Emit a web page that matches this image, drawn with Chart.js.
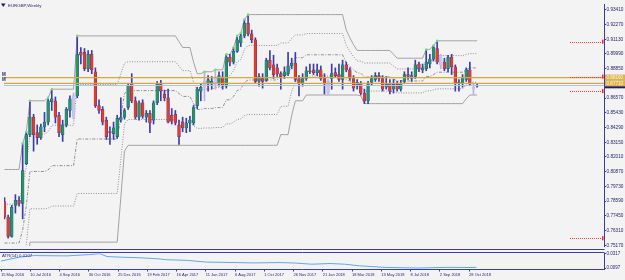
<!DOCTYPE html>
<html lang="en">
<head>
<meta charset="UTF-8">
<title>EURGBP,Weekly</title>
<script src="https://cdn.jsdelivr.net/npm/chart.js"></script>
<style>
    body {
        margin: 0;
        width: 625px;
        height: 280px;
        overflow: hidden;
        position: relative;
        background: #f3f3f3;
    }
    canvas { position: absolute; left: 0; }
    #mainChart { top: 0; }
    #atrChart { top: 250px; }
</style>
</head>
<body>
<canvas id="mainChart" width="625" height="250"></canvas>
<canvas id="atrChart" width="625" height="30"></canvas>
<script>
// weekly candles, week 0 = 15 May 2016
const openPrices = [
    0.7856, 0.7736, 0.7586, 0.7826, 0.7864, 0.7841, 0.8149, 0.8374, 0.8509, 0.8389,
    0.8351, 0.8434, 0.8471, 0.8629, 0.8636, 0.8524, 0.8374, 0.8449, 0.8561, 0.8509,
    0.8674, 0.9011, 0.9011, 0.8884, 0.8996, 0.8861, 0.8599, 0.8569, 0.8486, 0.8396,
    0.8381, 0.8359, 0.8486, 0.8509, 0.8584, 0.8771, 0.8636, 0.8509, 0.8621, 0.8509,
    0.8539, 0.8486, 0.8621, 0.8764, 0.8689, 0.8659, 0.8524, 0.8531, 0.8449, 0.8471,
    0.8426, 0.8464, 0.8464, 0.8599, 0.8711, 0.8741, 0.8764, 0.8764, 0.8771, 0.8764,
    0.8816, 0.8749, 0.8974, 0.8936, 0.9019, 0.9086, 0.9139, 0.9236, 0.9154, 0.9109,
    0.8786, 0.8816, 0.8794, 0.8951, 0.8914, 0.8891, 0.8846, 0.8831, 0.8846, 0.8906,
    0.8929, 0.8809, 0.8771, 0.8809, 0.8869, 0.8876, 0.8854, 0.8876, 0.8816, 0.8696,
    0.8809, 0.8854, 0.8839, 0.8801, 0.8914, 0.8876, 0.8809, 0.8749, 0.8771, 0.8696,
    0.8636, 0.8779, 0.8801, 0.8831, 0.8809, 0.8741, 0.8771, 0.8726, 0.8764, 0.8726,
    0.8786, 0.8839, 0.8809, 0.8824, 0.8921, 0.8876, 0.8884, 0.8921, 0.8959, 0.9041,
    0.8914, 0.8936, 0.8884, 0.8974, 0.8899, 0.8771, 0.8771, 0.8801, 0.8876, 0.8741,
    0.8749
];
const highPrices = [
    0.7886, 0.7751, 0.7826, 0.7909, 0.7894, 0.8306, 0.8396, 0.8636, 0.8531, 0.8449,
    0.8456, 0.8546, 0.8659, 0.8726, 0.8666, 0.8546, 0.8486, 0.8584, 0.8674, 0.8696,
    0.9139, 0.9049, 0.9041, 0.9026, 0.9026, 0.8891, 0.8644, 0.8591, 0.8509, 0.8434,
    0.8471, 0.8524, 0.8659, 0.8576, 0.8771, 0.8846, 0.8666, 0.8636, 0.8644, 0.8561,
    0.8561, 0.8636, 0.8786, 0.8794, 0.8719, 0.8726, 0.8576, 0.8561, 0.8486, 0.8509,
    0.8501, 0.8516, 0.8599, 0.8741, 0.8764, 0.8861, 0.8831, 0.8824, 0.8876, 0.8861,
    0.8861, 0.8996, 0.8996, 0.9049, 0.9139, 0.9161, 0.9266, 0.9304, 0.9184, 0.9124,
    0.8846, 0.8846, 0.8966, 0.9026, 0.8989, 0.8921, 0.8861, 0.8899, 0.9011, 0.8966,
    0.9011, 0.8831, 0.8846, 0.8899, 0.8921, 0.8921, 0.8921, 0.8906, 0.8846, 0.8801,
    0.8921, 0.8891, 0.8921, 0.8951, 0.8936, 0.8891, 0.8831, 0.8801, 0.8786, 0.8726,
    0.8786, 0.8831, 0.8854, 0.8854, 0.8831, 0.8824, 0.8801, 0.8801, 0.8786, 0.8794,
    0.8861, 0.8891, 0.8861, 0.8951, 0.8936, 0.8921, 0.9034, 0.8996, 0.9064, 0.9101,
    0.8996, 0.8966, 0.8989, 0.8996, 0.8914, 0.8801, 0.8839, 0.8891, 0.8936, 0.8771,
    0.8764
];
const lowPrices = [
    0.7721, 0.7571, 0.7579, 0.7766, 0.7819, 0.7721, 0.8141, 0.8359, 0.8246, 0.8299,
    0.8336, 0.8396, 0.8449, 0.8561, 0.8464, 0.8359, 0.8321, 0.8434, 0.8509, 0.8494,
    0.8659, 0.8921, 0.8869, 0.8861, 0.8846, 0.8584, 0.8539, 0.8449, 0.8336, 0.8299,
    0.8336, 0.8344, 0.8471, 0.8494, 0.8569, 0.8621, 0.8494, 0.8486, 0.8501, 0.8471,
    0.8389, 0.8456, 0.8606, 0.8636, 0.8636, 0.8464, 0.8456, 0.8449, 0.8299, 0.8396,
    0.8389, 0.8396, 0.8449, 0.8576, 0.8636, 0.8636, 0.8711, 0.8726, 0.8726, 0.8749,
    0.8726, 0.8734, 0.8906, 0.8921, 0.9011, 0.9056, 0.9124, 0.9139, 0.9086, 0.8771,
    0.8749, 0.8734, 0.8786, 0.8876, 0.8809, 0.8824, 0.8726, 0.8809, 0.8831, 0.8884,
    0.8786, 0.8674, 0.8749, 0.8794, 0.8846, 0.8839, 0.8831, 0.8794, 0.8689, 0.8689,
    0.8726, 0.8816, 0.8786, 0.8726, 0.8861, 0.8794, 0.8711, 0.8726, 0.8681, 0.8614,
    0.8614, 0.8756, 0.8786, 0.8786, 0.8711, 0.8726, 0.8689, 0.8696, 0.8711, 0.8711,
    0.8771, 0.8801, 0.8786, 0.8809, 0.8861, 0.8854, 0.8869, 0.8891, 0.8944, 0.8921,
    0.8884, 0.8869, 0.8861, 0.8839, 0.8711, 0.8711, 0.8741, 0.8786, 0.8756, 0.8681,
    0.8741
];
const closePrices = [
    0.7736, 0.7586, 0.7811, 0.7864, 0.7841, 0.8096, 0.8374, 0.8509, 0.8374, 0.8351,
    0.8434, 0.8471, 0.8636, 0.8651, 0.8509, 0.8389, 0.8449, 0.8569, 0.8651, 0.8674,
    0.8996, 0.8989, 0.8884, 0.8996, 0.8876, 0.8599, 0.8561, 0.8471, 0.8359, 0.8389,
    0.8426, 0.8501, 0.8509, 0.8561, 0.8756, 0.8636, 0.8509, 0.8621, 0.8516, 0.8539,
    0.8464, 0.8621, 0.8764, 0.8711, 0.8659, 0.8471, 0.8479, 0.8464, 0.8359, 0.8426,
    0.8464, 0.8486, 0.8584, 0.8726, 0.8741, 0.8786, 0.8801, 0.8786, 0.8816, 0.8831,
    0.8749, 0.8974, 0.8936, 0.9019, 0.9109, 0.9139, 0.9236, 0.9154, 0.9109, 0.8786,
    0.8824, 0.8786, 0.8951, 0.8891, 0.8839, 0.8846, 0.8824, 0.8861, 0.8906, 0.8929,
    0.8801, 0.8771, 0.8809, 0.8869, 0.8861, 0.8854, 0.8876, 0.8809, 0.8771, 0.8786,
    0.8846, 0.8831, 0.8801, 0.8914, 0.8876, 0.8809, 0.8734, 0.8779, 0.8696, 0.8636,
    0.8764, 0.8809, 0.8831, 0.8809, 0.8726, 0.8764, 0.8711, 0.8764, 0.8726, 0.8771,
    0.8839, 0.8824, 0.8831, 0.8914, 0.8884, 0.8891, 0.8936, 0.8959, 0.9049, 0.8936,
    0.8989, 0.8884, 0.8974, 0.8899, 0.8771, 0.8779, 0.8816, 0.8876, 0.8764, 0.8726,
    0.8756
];

// 26 week high / low channel, read per week
const channelHigh = [
    0.8104, 0.8104, 0.8104, 0.8104, 0.8104, 0.8306, 0.8396, 0.8636, 0.8636, 0.8636,
    0.8636, 0.8636, 0.8659, 0.8726, 0.8726, 0.8726, 0.8726, 0.8726, 0.8726, 0.8726,
    0.9139, 0.9139, 0.9139, 0.9139, 0.9139, 0.9139, 0.9139, 0.9139, 0.9139, 0.9139,
    0.9139, 0.9139, 0.9139, 0.9139, 0.9139, 0.9139, 0.9139, 0.9139, 0.9139, 0.9139,
    0.9139, 0.9139, 0.9139, 0.9139, 0.9139, 0.9139, 0.9139, 0.9139, 0.9094, 0.9049,
    0.9049, 0.9049, 0.8936, 0.8846, 0.8846, 0.8861, 0.8861, 0.8861, 0.8876, 0.8876,
    0.8876, 0.8996, 0.8996, 0.9049, 0.9139, 0.9161, 0.9266, 0.9304, 0.9304, 0.9304,
    0.9304, 0.9304, 0.9304, 0.9304, 0.9304, 0.9304, 0.9304, 0.9304, 0.9304, 0.9304,
    0.9304, 0.9304, 0.9304, 0.9304, 0.9304, 0.9304, 0.9304, 0.9304, 0.9304, 0.9304,
    0.9304, 0.9304, 0.9304, 0.9304, 0.9184, 0.9124, 0.9071, 0.9026, 0.9026, 0.9026,
    0.9026, 0.9026, 0.9026, 0.9026, 0.9026, 0.9026, 0.9026, 0.8996, 0.8966, 0.8966,
    0.8966, 0.8966, 0.8966, 0.8966, 0.8966, 0.8966, 0.9034, 0.9034, 0.9064, 0.9101,
    0.9101, 0.9101, 0.9101, 0.9101, 0.9101, 0.9101, 0.9101, 0.9101, 0.9101, 0.9101,
    0.9101
];
const channelLow = [
    0.6964, 0.6964, 0.6964, 0.6964, 0.6964, 0.6964, 0.7249, 0.7541, 0.7541, 0.7541,
    0.7541, 0.7541, 0.7541, 0.7541, 0.7541, 0.7541, 0.7541, 0.7541, 0.7541, 0.7541,
    0.7541, 0.7541, 0.7541, 0.7541, 0.7541, 0.7541, 0.7541, 0.7541, 0.7541, 0.7541,
    0.7541, 0.7541, 0.7886, 0.8246, 0.8291, 0.8291, 0.8291, 0.8291, 0.8291, 0.8291,
    0.8291, 0.8291, 0.8291, 0.8291, 0.8291, 0.8291, 0.8291, 0.8291, 0.8291, 0.8291,
    0.8291, 0.8291, 0.8291, 0.8291, 0.8291, 0.8291, 0.8291, 0.8291, 0.8291, 0.8291,
    0.8291, 0.8291, 0.8291, 0.8291, 0.8291, 0.8291, 0.8291, 0.8291, 0.8291, 0.8291,
    0.8291, 0.8291, 0.8291, 0.8291, 0.8291, 0.8291, 0.8374, 0.8374, 0.8374, 0.8524,
    0.8636, 0.8636, 0.8636, 0.8681, 0.8681, 0.8681, 0.8681, 0.8681, 0.8681, 0.8681,
    0.8681, 0.8681, 0.8681, 0.8681, 0.8681, 0.8681, 0.8681, 0.8681, 0.8674, 0.8614,
    0.8614, 0.8614, 0.8614, 0.8614, 0.8614, 0.8614, 0.8614, 0.8614, 0.8614, 0.8614,
    0.8614, 0.8614, 0.8614, 0.8614, 0.8614, 0.8614, 0.8614, 0.8614, 0.8614, 0.8614,
    0.8614, 0.8614, 0.8614, 0.8614, 0.8614, 0.8614, 0.8614, 0.8651, 0.8681, 0.8681,
    0.8681
];
const fibRatios = [0.236, 0.5, 0.764];

const lavenderWeeks = [19, 55, 58, 89, 120, 129];
const newHighWeeks = [5, 6, 7, 12, 13, 20, 55, 58, 61, 63, 64, 65, 66, 67, 116, 118, 119];

const levelLines = [0.8816, 0.8771];
const alertLevels = [0.9094, 0.8824, 0.8711, 0.7571];

const priceTicks = [0.93410, 0.92270, 0.91130, 0.89990, 0.88850, 0.87710, 0.86570, 0.85430, 0.84290,
    0.83150, 0.82010, 0.80870, 0.79730, 0.78590, 0.77450, 0.76310, 0.75170];

const dateWeeks = [0, 8, 16, 24, 32, 40, 48, 56, 64, 72, 80, 88, 96, 104, 112, 120, 128];
const dateLabels = ['15 May 2016', '10 Jul 2016', '4 Sep 2016', '30 Oct 2016', '25 Dec 2016', '19 Feb 2017',
    '16 Apr 2017', '11 Jun 2017', '6 Aug 2017', '1 Oct 2017', '26 Nov 2017', '21 Jan 2018', '18 Mar 2018',
    '13 May 2018', '8 Jul 2018', '2 Sep 2018', '28 Oct 2018'];

const atrWeeks = [0, 5, 9, 18, 24, 27, 29, 33, 38, 43, 45, 51, 56, 64, 69, 76, 80, 85, 90, 94, 98, 105, 114, 122, 128, 130];
const atrValues = [0.0204, 0.0263, 0.0288, 0.0283, 0.0302, 0.0317, 0.0273, 0.0263, 0.0254, 0.0239, 0.0225, 0.0214, 0.0189,
    0.0181, 0.0175, 0.0181, 0.0175, 0.0156, 0.0166, 0.0156, 0.0131, 0.0107, 0.0097, 0.0107, 0.0105, 0.0107];
const atrTicks = [0.0097, 0.0317];

const NAVY = '#3c3cae';
const TEXT = '#26266e';
const FONT = 'Liberation Sans';
const X_MIN = -0.137, X_MAX = 164.9;

let weeks = openPrices.map((_, i) => i);
let isLavender = i => lavenderWeeks.includes(i);

let wickData = weeks.map(i => ({ x: i, y: [lowPrices[i], highPrices[i]] }));
let bodyData = weeks.map(i => ({ x: i, y: [Math.min(openPrices[i], closePrices[i]), Math.max(openPrices[i], closePrices[i])] }));
let wickColors = weeks.map(i => isLavender(i) ? '#b3b3e3' : NAVY);
let bodyColors = weeks.map(i => isLavender(i) ? '#c7c7ec' : (closePrices[i] >= openPrices[i] ? '#1e9c55' : '#ec3a1c'));
let markerData = newHighWeeks.map(i => ({ x: i, y: highPrices[i] }));

function lineSet(values, color, dash) {
    return {
        type: 'line',
        data: values.map((v, i) => ({ x: i, y: v })),
        borderColor: color,
        borderWidth: 1,
        borderDash: dash,
        pointRadius: 0,
        tension: 0,
        order: 5
    };
}

let fibSets = fibRatios.map((r, k) => lineSet(
    channelHigh.map((h, i) => h - r * (h - channelLow[i])),
    '#8e8e8e',
    k === 1 ? [3, 1.5, 1, 1.5] : [1, 1.5]
));

const mainOverlay = {
    id: 'mainOverlay',
    afterDatasetsDraw(chart) {
        let { ctx, chartArea: a, scales: { y } } = chart;
        ctx.save();
        // bid line
        let bid = closePrices[closePrices.length - 1];
        let by = Math.round(y.getPixelForValue(bid)) + 0.5;
        ctx.strokeStyle = '#a9c3ea';
        ctx.lineWidth = 1;
        ctx.beginPath(); ctx.moveTo(a.left, by); ctx.lineTo(a.right, by); ctx.stroke();
        // horizontal levels
        ctx.strokeStyle = '#dba73a';
        ctx.lineWidth = 1.2;
        levelLines.forEach(p => {
            let py = y.getPixelForValue(p);
            ctx.beginPath(); ctx.moveTo(a.left, py); ctx.lineTo(a.right, py); ctx.stroke();
        });
        ctx.fillStyle = TEXT;
        ctx.font = 'bold 4.5px "' + FONT + '"';
        ctx.textBaseline = 'bottom';
        levelLines.forEach(p => ctx.fillText('M', 2, y.getPixelForValue(p) - 1));
        // alert lines at the right edge
        ctx.strokeStyle = '#ff3434';
        ctx.lineWidth = 1;
        ctx.setLineDash([1, 1]);
        alertLevels.forEach(p => {
            let py = Math.round(y.getPixelForValue(p)) + 0.5;
            ctx.beginPath(); ctx.moveTo(a.right - 34, py); ctx.lineTo(a.right - 2, py); ctx.stroke();
        });
        ctx.setLineDash([]);
        ctx.fillStyle = '#ff2020';
        alertLevels.forEach(p => ctx.fillRect(a.right - 2, y.getPixelForValue(p) - 2, 1.5, 4));
        ctx.restore();
    },
    afterDraw(chart) {
        let { ctx, chartArea: a, scales: { y } } = chart;
        ctx.save();
        // price boxes on the axis
        let bid = closePrices[closePrices.length - 1];
        let by = y.getPixelForValue(bid);
        ctx.fillStyle = '#1c1c78';
        ctx.fillRect(a.right + 1, by - 3, 20, 6);
        ctx.font = '4.6px "' + FONT + '"';
        ctx.textBaseline = 'middle';
        levelLines.forEach(p => {
            let py = y.getPixelForValue(p);
            ctx.fillStyle = '#dcb24c';
            ctx.fillRect(a.right + 1, py - 3, 20, 6);
            ctx.fillStyle = '#fff8e0';
            ctx.fillText(p.toFixed(5), a.right + 2.5, py);
        });
        // bottom border
        ctx.strokeStyle = NAVY;
        ctx.lineWidth = 1;
        ctx.beginPath(); ctx.moveTo(0, 249.5); ctx.lineTo(a.right + 0.5, 249.5); ctx.stroke();
        // title
        ctx.fillStyle = '#1c1c66';
        ctx.beginPath(); ctx.moveTo(1, 3.5); ctx.lineTo(5.5, 3.5); ctx.lineTo(3.25, 7); ctx.closePath(); ctx.fill();
        ctx.font = '4.4px "' + FONT + '"';
        ctx.fillStyle = TEXT;
        ctx.fillText('EURGBP,Weekly', 8, 5.5);
        ctx.restore();
    }
};

new Chart(document.getElementById('mainChart'), {
    type: 'bar',
    data: {
        datasets: [
            lineSet(channelHigh, '#a2a2a2', []),
            lineSet(channelLow, '#a2a2a2', []),
            ...fibSets,
            {
                type: 'bar', data: wickData, backgroundColor: wickColors,
                barThickness: 1, grouped: false, order: 3
            },
            {
                type: 'bar', data: bodyData, backgroundColor: bodyColors, borderColor: wickColors,
                borderWidth: 0.5, borderSkipped: false, barThickness: 2.8, minBarLength: 1,
                grouped: false, order: 2
            },
            {
                type: 'line', data: markerData, showLine: false, pointRadius: 1.3,
                pointBackgroundColor: '#74de74', pointBorderWidth: 0, order: 1
            }
        ]
    },
    options: {
        responsive: false,
        animation: false,
        devicePixelRatio: 1,
        layout: { padding: 0 },
        plugins: { legend: { display: false }, tooltip: { enabled: false } },
        scales: {
            x: { type: 'linear', min: X_MIN, max: X_MAX, offset: false, display: false },
            y: {
                position: 'right', min: 0.7511, max: 0.9386,
                afterBuildTicks: s => { s.ticks = priceTicks.map(v => ({ value: v })); },
                afterFit: s => { s.width = 21; },
                ticks: { font: { family: FONT, size: 4.7 }, color: TEXT, padding: 0.5, autoSkip: false, callback: v => v.toFixed(5) },
                grid: { drawOnChartArea: false, tickLength: 2, color: NAVY },
                border: { color: NAVY, width: 1 }
            }
        }
    },
    plugins: [mainOverlay]
});

const atrOverlay = {
    id: 'atrOverlay',
    afterDraw(chart) {
        let { ctx, chartArea: a } = chart;
        ctx.save();
        ctx.strokeStyle = NAVY;
        ctx.lineWidth = 1;
        ctx.beginPath(); ctx.moveTo(0, 2.5); ctx.lineTo(a.right + 0.5, 2.5); ctx.stroke();
        ctx.font = '4.3px "' + FONT + '"';
        ctx.fillStyle = TEXT;
        ctx.textBaseline = 'middle';
        ctx.fillText('ATR(14) 0.0107', 2, 5.5);
        ctx.restore();
    }
};

new Chart(document.getElementById('atrChart'), {
    type: 'line',
    data: {
        datasets: [{
            data: atrWeeks.map((w, k) => ({ x: w, y: atrValues[k] })),
            borderColor: '#5ea8f0', borderWidth: 1, pointRadius: 0, tension: 0
        }]
    },
    options: {
        responsive: false,
        animation: false,
        devicePixelRatio: 1,
        layout: { padding: { top: 2.5 } },
        plugins: { legend: { display: false }, tooltip: { enabled: false } },
        scales: {
            x: {
                type: 'linear', min: X_MIN, max: X_MAX, offset: false,
                afterBuildTicks: s => { s.ticks = dateWeeks.map(v => ({ value: v })); },
                afterFit: s => { s.height = 11; },
                ticks: {
                    font: { family: FONT, size: 4 }, color: TEXT, padding: 1, align: 'start',
                    maxRotation: 0, autoSkip: false, callback: v => dateLabels[dateWeeks.indexOf(v)]
                },
                grid: { drawOnChartArea: false, tickLength: 2.5, color: NAVY },
                border: { color: NAVY, width: 1 }
            },
            y: {
                position: 'right', min: 0.00823, max: 0.03243,
                afterBuildTicks: s => { s.ticks = atrTicks.map(v => ({ value: v })); },
                afterFit: s => { s.width = 21; },
                ticks: { font: { family: FONT, size: 4.5 }, color: TEXT, padding: 0.5, callback: v => v.toFixed(4) },
                grid: { drawOnChartArea: false, tickLength: 2, color: NAVY },
                border: { color: NAVY, width: 1 }
            }
        }
    },
    plugins: [atrOverlay]
});
</script>
</body>
</html>
